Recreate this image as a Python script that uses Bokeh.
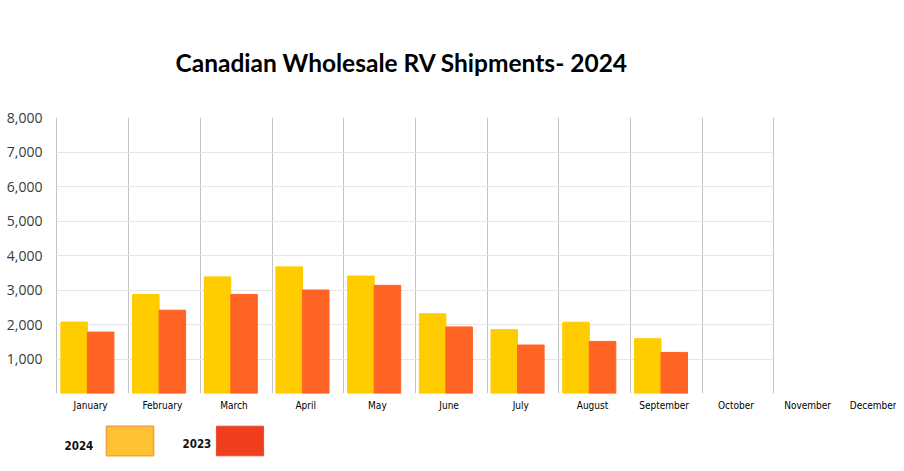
from bokeh.plotting import figure
from bokeh.layouts import column
from bokeh.models import (ColumnDataSource, Range1d, FixedTicker, Grid, Label,
                          Legend, LegendItem, Title, NumeralTickFormatter)
from bokeh.embed import file_html
from bokeh.resources import INLINE

months = ["January", "February", "March", "April", "May", "June", "July",
          "August", "September", "October", "November", "December"]
shipments_2024 = [2070, 2870, 3380, 3670, 3405, 2310, 1850, 2065, 1590]
shipments_2023 = [1780, 2415, 2870, 3000, 3135, 1930, 1405, 1510, 1190]
y_ticks = [1000, 2000, 3000, 4000, 5000, 6000, 7000, 8000]
series_names = ["2024", "2023"]

NARROW = "'Liberation Sans Narrow', 'DejaVu Sans Condensed', 'Liberation Sans', sans-serif"

idx = list(range(len(shipments_2024)))
src = ColumnDataSource(dict(
    x24=[i + 0.24 for i in idx],
    x23=[i + 0.61 for i in idx],
    v24=shipments_2024,
    v23=shipments_2023,
))

p = figure(width=896, height=422, output_backend="svg", toolbar_location=None,
           x_range=Range1d(-0.02, 11.71), y_range=Range1d(0, 8000),
           min_border_left=55, min_border_right=0, min_border_top=117,
           min_border_bottom=29)
p.outline_line_color = None
p.background_fill_color = "white"
p.border_fill_color = "white"

p.vbar(x="x24", top="v24", width=0.37, source=src, color="#FFCC00")
p.vbar(x="x23", top="v23", width=0.37, source=src, color="#FF6424")

# grids
p.xgrid.visible = False
p.ygrid.visible = False
vg = Grid(dimension=0, ticker=FixedTicker(ticks=list(range(0, 11))),
          grid_line_color="#c4c4c4", grid_line_width=1, cross_bounds=(0, 8000))
hg = Grid(dimension=1, ticker=FixedTicker(ticks=[0] + y_ticks),
          grid_line_color="#e6e6e6", grid_line_width=1, cross_bounds=(0, 10))
p.add_layout(vg)
p.add_layout(hg)

# y axis
p.yaxis.ticker = FixedTicker(ticks=y_ticks)
p.yaxis.formatter = NumeralTickFormatter(format="0,0")
p.yaxis.axis_line_color = None
p.yaxis.major_tick_line_color = None
p.yaxis.minor_tick_line_color = None
p.yaxis.major_tick_out = 0
p.yaxis.major_label_text_font = "Open Sans"
p.yaxis.major_label_text_font_size = "14px"
p.yaxis.major_label_text_color = "#3a3a3a"
p.yaxis.major_label_standoff = 13

# x axis
p.xaxis.ticker = FixedTicker(ticks=[i + 0.47 for i in range(len(months))])
p.xaxis.major_label_overrides = {i + 0.47: m for i, m in enumerate(months)}
p.xaxis.axis_line_color = None
p.xaxis.major_tick_line_color = None
p.xaxis.minor_tick_line_color = None
p.xaxis.major_tick_out = 0
p.xaxis.major_label_text_font = NARROW
p.xaxis.major_label_text_font_size = "10px"
p.xaxis.major_label_text_color = "#000000"
p.xaxis.major_label_standoff = 6

# title
t = Title(text="Canadian Wholesale RV Shipments- 2024", align="left", offset=120,
          text_font="Lato", text_font_style="bold", text_font_size="24.5px",
          text_color="black", standoff=81)
p.add_layout(t, "above")

# legend strip (frame aligned with main plot frame: 841 px wide)
q = figure(width=896, height=41, output_backend="svg", toolbar_location=None,
           x_range=Range1d(0, 841), y_range=Range1d(0, 41),
           x_axis_location=None, y_axis_location=None,
           min_border_left=0, min_border_right=0, min_border_top=0,
           min_border_bottom=0)
q.grid.visible = False
q.outline_line_color = None
e24 = q.vbar(x=[0], top=[0], width=1, fill_color="#FFC232", line_color="#F2A23A",
             line_width=1.5, visible=False)
e23 = q.vbar(x=[0], top=[0], width=1, fill_color="#F03E1E", line_color="#E0502E",
             line_width=1, visible=False)
leg = Legend(items=[LegendItem(label=" ", renderers=[e24]),
                    LegendItem(label=" ", renderers=[e23])],
             orientation="horizontal", location=(45, 4),
             glyph_width=59, glyph_height=37, label_width=0, label_standoff=0,
             label_text_font_size="1px",
             spacing=51, padding=0, margin=0, border_line_color=None,
             background_fill_alpha=0)
q.add_layout(leg, "center")

for name, xs, ys in [(series_names[0], 9, 18), (series_names[1], 127, 20)]:
    q.add_layout(Label(x=xs, y=ys, text=name,
                       text_font=NARROW,
                       text_font_style="bold", text_font_size="11.5px",
                       text_color="#111111", text_baseline="middle"))

open("out.html", "w").write(file_html(column(p, q, spacing=0), INLINE))
